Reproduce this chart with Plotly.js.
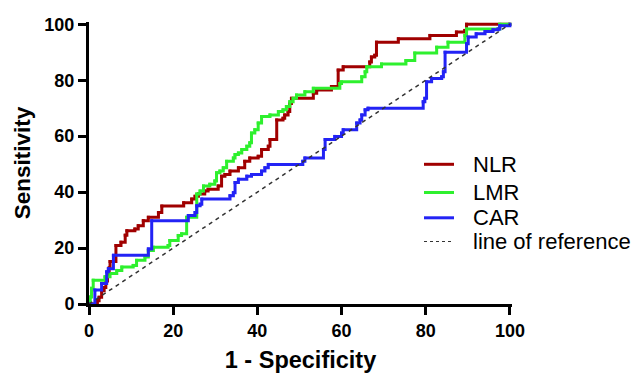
<!DOCTYPE html>
<html>
<head>
<meta charset="utf-8">
<script src="https://cdn.plot.ly/plotly-3.0.1.min.js"></script>
<style>html,body{margin:0;padding:0;background:#fff;}#chart{width:643px;height:373px;}</style>
</head>
<body>
<div id="chart"></div>
<script>
// NLR (red) ROC steps: x = 1 - specificity (%), y = sensitivity (%)
const nlrX = [0, 2.0, 2.4, 3.0, 3.6, 4.0, 4.4, 4.8, 5.0, 6.4, 7.6, 8.6, 9.0, 10.9, 11.7, 12.9, 14.1, 16.5, 17.3, 22.5, 24.4, 25.2, 26.0, 27.5, 28.3, 30.7, 31.5, 32.3, 33.5, 35.5, 37.0, 38.2, 40.2, 41.0, 42.6, 43.0, 44.6, 46.1, 46.5, 47.3, 47.7, 48.1, 53.3, 54.1, 57.6, 59.2, 60.4, 66.7, 67.1, 67.9, 68.3, 73.5, 81.0, 87.3, 89.3, 89.7, 100];
const nlrY = [0, 1.2, 2.4, 4.7, 5.9, 8.2, 10.5, 12.9, 15.2, 20.9, 22.1, 24.6, 26.2, 26.8, 28.0, 29.8, 31.0, 32.7, 35.0, 36.2, 37.5, 38.5, 39.3, 40.4, 41.0, 42.2, 45.7, 46.3, 47.5, 48.7, 51.0, 52.2, 52.8, 55.2, 56.4, 58.8, 65.8, 66.4, 67.6, 68.8, 71.7, 73.5, 75.3, 76.5, 77.7, 83.6, 84.8, 86.5, 88.3, 88.9, 93.6, 94.8, 96.0, 97.2, 97.8, 100, 100];

// LMR (green)
const lmrX = [0, 0.3, 0.6, 1.0, 3.8, 5.0, 6.6, 7.8, 10.5, 11.3, 13.3, 14.1, 15.3, 18.8, 19.2, 21.2, 22.0, 23.2, 25.6, 26.4, 27.2, 28.7, 29.9, 30.3, 31.1, 31.9, 32.7, 34.3, 34.7, 35.5, 36.3, 37.5, 38.2, 38.6, 39.4, 40.2, 41.0, 43.0, 45.0, 46.1, 46.9, 47.7, 48.5, 49.3, 51.3, 53.3, 59.6, 60.0, 64.8, 65.6, 66.0, 69.5, 75.3, 77.4, 82.6, 85.3, 89.3, 89.7, 97.6, 100];
const lmrY = [0, 2.5, 5.6, 8.5, 9.7, 10.9, 12.0, 13.2, 13.8, 15.6, 16.8, 19.1, 20.3, 20.9, 22.7, 24.5, 25.1, 31.0, 39.3, 40.4, 42.2, 42.8, 44.0, 46.9, 47.5, 48.7, 51.0, 52.2, 53.4, 54.0, 55.2, 56.4, 57.6, 61.1, 62.3, 64.7, 67.0, 67.6, 68.8, 69.4, 70.6, 72.3, 73.5, 74.7, 75.9, 77.1, 78.8, 79.4, 81.2, 83.0, 84.8, 85.8, 87.0, 89.7, 91.8, 93.6, 96.0, 98.3, 100, 100];

// CAR (blue)
const carX = [0, 1.4, 3.0, 4.2, 4.6, 5.8, 14.1, 14.9, 23.6, 25.2, 25.6, 26.4, 26.8, 33.5, 34.3, 34.7, 35.5, 37.5, 38.6, 41.0, 41.8, 42.6, 50.8, 51.3, 55.7, 56.1, 58.4, 60.0, 60.4, 63.6, 64.4, 64.8, 65.6, 66.3, 79.4, 79.8, 80.2, 81.4, 83.8, 84.2, 84.6, 89.7, 90.1, 92.0, 94.1, 96.0, 97.2, 97.6, 100];
const carY = [0, 5.0, 7.3, 11.5, 12.6, 17.4, 19.7, 29.8, 31.6, 32.7, 35.1, 35.7, 37.5, 38.7, 39.8, 43.4, 44.6, 45.7, 46.3, 47.5, 48.7, 49.9, 51.0, 52.2, 55.2, 58.8, 59.9, 61.1, 62.3, 64.7, 65.8, 67.6, 69.4, 70.0, 72.3, 73.5, 79.4, 80.6, 81.2, 83.0, 90.0, 93.0, 95.4, 96.6, 97.4, 98.0, 98.3, 99.5, 100];

// line of reference
const refX = [0, 100];
const refY = [0, 100];

const seriesNames = ['NLR', 'LMR', 'CAR', 'line of reference'];
const tickVals = [0, 20, 40, 60, 80, 100];

const colNLR = '#A00000', colLMR = '#2EF02E', colCAR = '#2323F5', colRef = '#333333';
const seriesColors = [colNLR, colLMR, colCAR, colRef];

function stepTrace(x, y, name, color) {
  return {
    x: x, y: y, name: name, type: 'scatter', mode: 'lines+markers',
    line: {color: color, width: 3, shape: 'hv'},
    marker: {color: color, size: 3, symbol: 'square'}
  };
}

const traces = [
  stepTrace(nlrX, nlrY, seriesNames[0], colNLR),
  stepTrace(lmrX, lmrY, seriesNames[1], colLMR),
  stepTrace(carX, carY, seriesNames[2], colCAR),
  {x: refX, y: refY, name: seriesNames[3], type: 'scatter', mode: 'lines',
   line: {color: colRef, width: 1.5, dash: '4px,4px'}}
];

const fam = 'Liberation Sans, Arial, sans-serif';
const boldFont = {family: fam, size: 18, color: '#000', weight: 700};

// legend built in paper coordinates (plot area: x 89..512 px, y 304..22 px)
const W = 643, H = 373, mL = 89, mR = 131, mT = 22, mB = 69;
const pw = W - mL - mR, ph = H - mT - mB;
const px2x = p => (p - mL) / pw;
const py2y = p => (H - mB - p) / ph;
const legRows = [164.3, 192.5, 217.8, 241.5];
const shapes = [], annotations = [];
seriesNames.forEach((nm, i) => {
  const isRef = i === 3;
  shapes.push({type: 'line', xref: 'paper', yref: 'paper',
    x0: px2x(424), x1: px2x(454), y0: py2y(legRows[i]), y1: py2y(legRows[i]),
    line: {color: seriesColors[i], width: isRef ? 1.2 : 3, dash: isRef ? '3px,3px' : 'solid'}});
  annotations.push({xref: 'paper', yref: 'paper', x: px2x(471), y: py2y(legRows[i]),
    xanchor: 'left', yanchor: 'middle', showarrow: false, text: nm,
    font: {family: fam, size: 22, color: '#000'}});
});

const layout = {
  width: W, height: H,
  margin: {l: mL, r: mR, t: mT, b: mB, pad: 0},
  paper_bgcolor: '#fff', plot_bgcolor: '#fff',
  showlegend: false,
  shapes: shapes, annotations: annotations,
  xaxis: {
    range: [0, 100.5], tickvals: tickVals, ticktext: tickVals.map(String),
    showline: true, linecolor: '#000', linewidth: 3, mirror: false,
    ticks: 'outside', ticklen: 8, tickwidth: 3, tickcolor: '#000',
    showgrid: false, zeroline: false, tickfont: boldFont,
    title: {text: '1 - Specificity', font: {family: fam, size: 23.5, color: '#000', weight: 700}, standoff: 13},
    automargin: false, fixedrange: true
  },
  yaxis: {
    range: [0, 100.8], tickvals: tickVals, ticktext: tickVals.map(String),
    showline: true, linecolor: '#000', linewidth: 3,
    ticks: 'outside', ticklen: 8, tickwidth: 3, tickcolor: '#000',
    showgrid: false, zeroline: false, tickfont: boldFont,
    title: {text: 'Sensitivity', font: {family: fam, size: 22.5, color: '#000', weight: 700}, standoff: 8},
    automargin: false, fixedrange: true
  }
};

Plotly.newPlot('chart', traces, layout, {staticPlot: true, displayModeBar: false});
</script>
</body>
</html>
